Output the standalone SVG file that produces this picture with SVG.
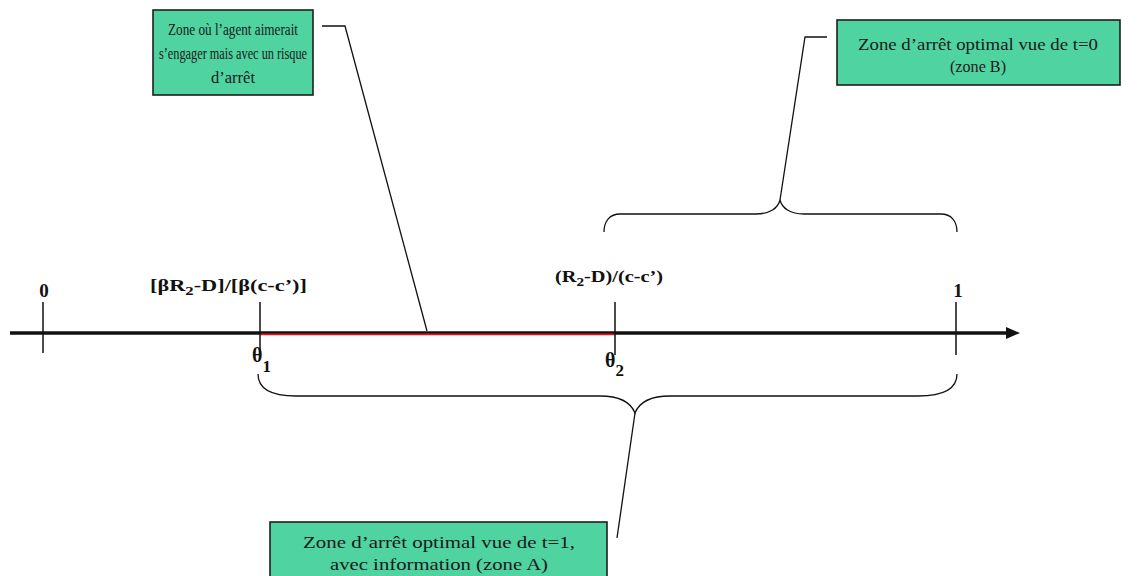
<svg xmlns="http://www.w3.org/2000/svg" width="1137" height="576" viewBox="0 0 1137 576">
  <defs>
    <style>
      .box { fill: #4fd3a1; stroke: #1e1e1e; stroke-width: 1.6; }
      .txt { font-family: "Liberation Serif", "DejaVu Serif", serif; font-size: 16px; fill: #1a1a1a; text-anchor: middle; }
      .lbl { font-family: "Liberation Serif", "DejaVu Serif", serif; font-size: 16px; font-weight: bold; fill: #111; }
      .big { font-size: 19px; }
      .theta { font-size: 20px; }
      .line { fill: none; stroke: #111; stroke-width: 1.3; }
      .tick { stroke: #111; stroke-width: 1.5; }
    </style>
    <marker id="arrow" viewBox="0 0 14 12" refX="1" refY="6" markerWidth="14" markerHeight="12" markerUnits="userSpaceOnUse" orient="auto">
      <path d="M0,0 L14,6 L0,12 Z" fill="#111"/>
    </marker>
  </defs>

  <!-- axis -->
  <g id="axis">
    <line x1="10" y1="333" x2="1007" y2="333" stroke="#111" stroke-width="3.5" marker-end="url(#arrow)"/>
    <line x1="260" y1="334.3" x2="615" y2="334.3" stroke="#e8141c" stroke-width="1.8"/>
    <line class="tick" x1="43" y1="302" x2="43" y2="353"/>
    <line class="tick" x1="260" y1="302" x2="260" y2="355"/>
    <line class="tick" x1="615" y1="302" x2="615" y2="355"/>
    <line class="tick" x1="956" y1="302" x2="956" y2="355"/>
  </g>

  <!-- axis labels -->
  <g id="labels">
    <text class="lbl big" x="44" y="297" text-anchor="middle">0</text>
    <text class="lbl big" x="958" y="297" text-anchor="middle">1</text>
    <text class="lbl" x="150" y="291" textLength="157" lengthAdjust="spacingAndGlyphs">[βR<tspan dy="4" font-size="12">2</tspan><tspan dy="-4">-D]/[β(c-c’)]</tspan></text>
    <text class="lbl" x="555" y="282" textLength="108" lengthAdjust="spacingAndGlyphs">(R<tspan dy="4" font-size="12">2</tspan><tspan dy="-4">-D)/(c-c’)</tspan></text>
    <text class="lbl theta" x="252" y="362">θ<tspan dy="10" font-size="17">1</tspan></text>
    <text class="lbl theta" x="605" y="367">θ<tspan dy="9" font-size="17">2</tspan></text>
  </g>

  <!-- connectors: braces and leader lines -->
  <g id="connectors">
    <path class="line" d="M604,232 C604,221 610,214 620,214 L756,214 C770,214 778,208 780,200 C782,208 790,214 804,214 L941,214 C951,214 957,221 957,232"/>
    <path class="line" d="M258,374 C258,388 270,396 296,396 L600,396 C620,396 631,403 635,413 C639,403 650,396 670,396 L918,396 C944,396 957,388 957,374"/>
    <polyline class="line" points="322,26 345,26 427,331"/>
    <polyline class="line" points="827,37 805,37 780,200"/>
    <line class="line" x1="635" y1="413" x2="617" y2="538"/>
  </g>

  <!-- zone where the agent would like to engage -->
  <g id="zone-risque">
    <rect class="box" x="153" y="10" width="160" height="85"/>
    <text class="txt" x="233" y="35" textLength="130" lengthAdjust="spacingAndGlyphs">Zone où l’agent aimerait</text>
    <text class="txt" x="233" y="59" textLength="148" lengthAdjust="spacingAndGlyphs">s’engager mais avec un risque</text>
    <text class="txt" x="233" y="83" textLength="44" lengthAdjust="spacingAndGlyphs">d’arrêt</text>
  </g>

  <!-- zone B -->
  <g id="zone-b">
    <rect class="box" x="837" y="20" width="283" height="65"/>
    <text class="txt" x="978" y="50" textLength="240" lengthAdjust="spacingAndGlyphs">Zone d’arrêt optimal vue de t=0</text>
    <text class="txt" x="978" y="72" textLength="56" lengthAdjust="spacingAndGlyphs">(zone B)</text>
  </g>

  <!-- zone A -->
  <g id="zone-a">
    <rect class="box" x="270" y="522" width="337" height="60"/>
    <text class="txt" x="439" y="548" textLength="272" lengthAdjust="spacingAndGlyphs">Zone d’arrêt optimal vue de t=1,</text>
    <text class="txt" x="439" y="570" textLength="218" lengthAdjust="spacingAndGlyphs">avec information (zone A)</text>
  </g>
</svg>
